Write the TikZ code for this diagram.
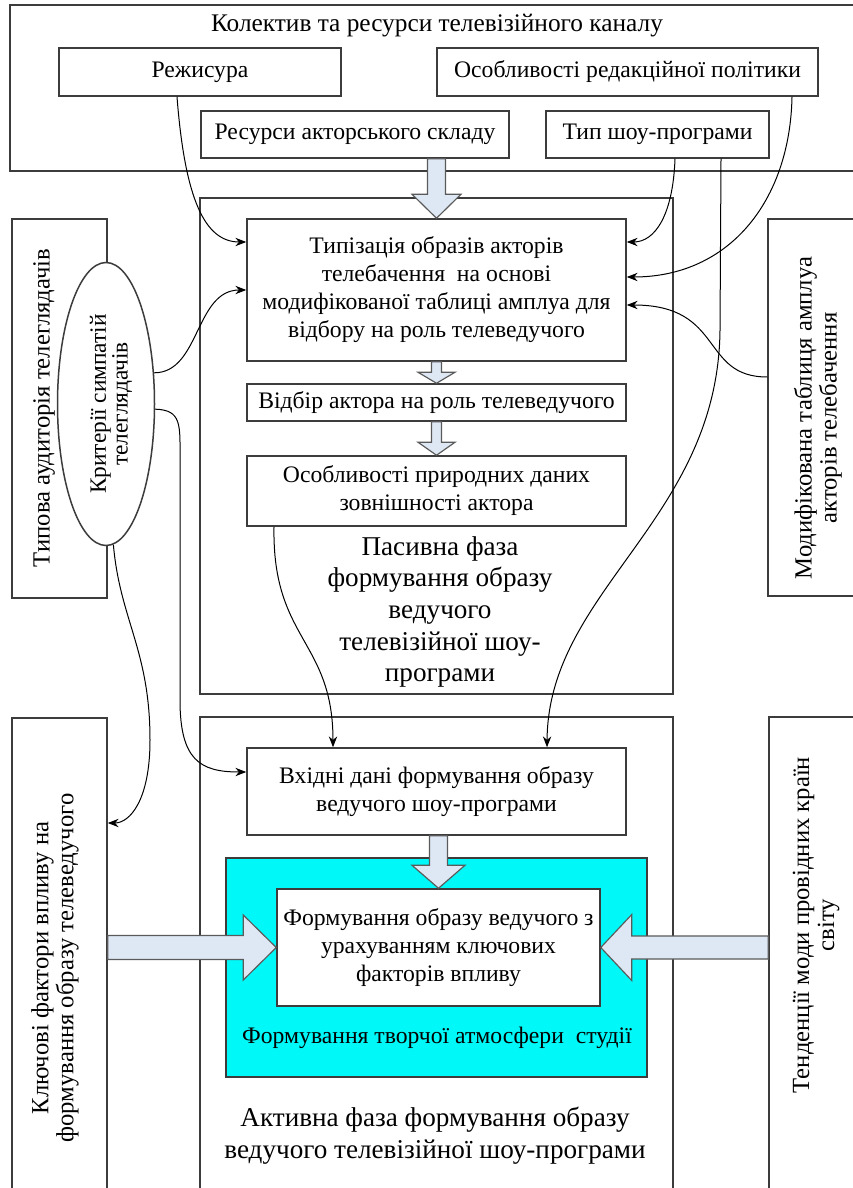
\documentclass[tikz,border=0pt]{standalone}
\usepackage{fontspec}
\setmainfont{Liberation Serif}
\usetikzlibrary{arrows.meta,calc,fit,shapes.geometric}
\definecolor{boxc}{RGB}{60,60,60}
\definecolor{arrfill}{RGB}{222,232,245}
\definecolor{arrline}{RGB}{90,90,90}
\definecolor{cyanf}{RGB}{0,248,248}
\newcommand\fA{\fontsize{14.2}{16.8}\selectfont}
\newcommand\fT{\fontsize{15.2}{17}\selectfont}
\newcommand\fB{\fontsize{16.3}{19}\selectfont}
\newcommand\fS{\fontsize{14.8}{15}\selectfont}
\newcommand\fC{\fontsize{14}{13}\selectfont}
% block arrow pointing down: #1 top centre, #2 tip, #3 shaft half width, #4 head half width, #5 head length
\newcommand\bdn[5]{\draw[blk] ($(#1)+(-#3,0)$) -- ($(#2)+(-#3,-#5)$) -- ($(#2)+(-#4,-#5)$) -- (#2) -- ($(#2)+(#4,-#5)$) -- ($(#2)+(#3,-#5)$) -- ($(#1)+(#3,0)$) -- cycle;}
% horizontal block arrow: #1 start centre, #2 tip, #3 shaft half, #4 head half, #5 signed head length
\newcommand\bhz[5]{\draw[blk] ($(#1)+(0,-#3)$) -- ($(#2)+(#5,-#3)$) -- ($(#2)+(#5,-#4)$) -- (#2) -- ($(#2)+(#5,#4)$) -- ($(#2)+(#5,#3)$) -- ($(#1)+(0,#3)$) -- cycle;}
\begin{document}
\begin{tikzpicture}[x=0.6pt,y=-0.6pt,
  frame/.style={draw=boxc, line width=0.9pt, fill=white, inner sep=0pt},
  txt/.style={align=center, font=\fA, inner sep=0pt},
  big/.style={align=center, font=\fB, inner sep=0pt},
  side/.style={align=center, font=\fS, inner sep=0pt, rotate=90},
  conn/.style={draw=black, line width=0.6pt, -{Stealth[length=6.5pt,width=5pt]}},
  blk/.style={draw=arrline, line width=0.7pt, fill=arrfill, line join=miter}]
\fill[white] (0,0) rectangle (853,1188);
\useasboundingbox (0,0) rectangle (853,1188);
\clip (0,0) rectangle (853,1188);

% top block
\node[frame, fit={(10,5)(870,171)}] (top) {};
\node[txt, font=\fT] (ttl) at (437,26) {Колектив та ресурси телевізійного каналу};
\node[frame, fit={(59,48)(341,96)}] (rez) {};
\node[txt] (rezt) at (rez.center) {Режисура};
\node[frame, fit={(437,48)(818,96)}] (pol) {};
\node[txt] (polt) at (pol.center) {Особливості редакційної політики};
\node[frame, fit={(201,111)(509,158)}] (res) {};
\node[txt] (rest) at (res.center) {Ресурси акторського складу};
\node[frame, fit={(546,111)(769,158)}] (typ) {};
\node[txt] (typt) at (typ.center) {Тип шоу-програми};

% passive phase
\node[frame, fit={(200,198)(673,694)}] (pas) {};
\node[frame, fit={(247,219)(626,361)}] (tz) {};
\node[txt] (tzt) at (tz.center) {Типізація образів акторів\\телебачення~ на основі\\модифікованої таблиці амплуа для\\відбору на роль телеведучого};
\node[frame, fit={(247,384)(626,421)}] (vid) {};
\node[txt] (vidt) at (vid.center) {Відбір актора на роль телеведучого};
\node[frame, fit={(247,456)(626,526)}] (nat) {};
\node[txt] (natt) at (nat.center) {Особливості природних даних\\зовнішності актора};
\node[big] (pasl) at (440,612) {Пасивна фаза\\формування образу\\ведучого\\телевізійної шоу-\\програми};

% active phase
\node[frame, fit={(200,717)(673,1210)}] (act) {};
\node[frame, fit={(247,748)(626,835)}] (vkh) {};
\node[txt] (vkht) at (vkh.center) {Вхідні дані формування образу\\ведучого шоу-програми};
\node[frame, fill=cyanf, fit={(226,858)(647,1077)}] (cy) {};
\node[frame, fit={(277,889)(600,1006)}] (frm) {};
\node[txt] (frmt) at (frm.center) {Формування образу ведучого з\\урахуванням ключових\\факторів впливу};
\node[txt] (atm) at (437,1038) {Формування творчої атмосфери~ студії};
\node[big] (actl) at (435,1136) {Активна фаза формування образу\\ведучого телевізійної шоу-програми};

% side blocks
\node[frame, fit={(12,219)(107,598)}] (aud) {};
\node[side] (audl) at (44,408) {Типова аудиторія телеглядачів};
\node[ellipse, draw=boxc, line width=0.9pt, fill=white, minimum width=58.2pt, minimum height=169.8pt, inner sep=0pt] (crit) at (106,404) {};
\node[side, font=\fC] (critl) at (111,404) {Критерії симпатій\\телеглядачів};
\node[frame, fit={(12,718)(107,1210)}] (kl) {};
\node[side] (kll) at (55,968) {Ключові фактори впливу на\\формування образу телеведучого};
\node[frame, fit={(768,219)(870,596)}] (mod) {};
\node[side] (modl) at (818,418) {Модифікована таблиця амплуа\\акторів телебачення};
\node[frame, fit={(769,717)(870,1210)}] (ten) {};
\node[side] (tenl) at (816,925) {Тенденції моди провідних країн\\світу};

% connectors
\draw[conn] ($(rez.south)+(-23,0)$) .. controls (185,200) and (205,242) .. ($(tz.west)+(0,-48)$);
\draw[conn] ($(typ.south)+(17.5,0)$) .. controls (673,215) and (655,242) .. ($(tz.east)+(0,-48)$);
\draw[conn] ($(pol.south)+(164.5,0)$) .. controls (790,200) and (730,277) .. ($(tz.east)+(0,-13)$);
\draw[conn] ($(mod.west)+(0,-30.5)$) .. controls (700,377) and (725,305) .. ($(tz.east)+(0,15)$);
\draw[conn] ($(typ.south)+(63.5,0)$) -- (720,330) .. controls (718,520) and (548,590) .. ($(vkh.north)+(110.5,0)$);
\draw[conn] ($(nat.south)+(-162.5,0)$) .. controls (272,640) and (333,640) .. ($(vkh.north)+(-103.5,0)$);
\draw[conn] (crit.33) .. controls (200,373) and (195,290) .. (tz.west);
\draw[conn] (crit.-6) .. controls (182,410) and (180,425) .. (180,460) -- (180,700) .. controls (180,760) and (200,772) .. ($(vkh.west)+(0,-19.5)$);
\draw[conn] (crit.-87) .. controls (120,620) and (150,650) .. (150,740) .. controls (150,800) and (130,823) .. ($(kl.east)+(0,-141)$);

% block arrows
\coordinate (a1) at (res.south -| tz.north);
\bdn{a1}{tz.north}{9}{24.5}{24}
\bdn{tz.south}{vid.north}{5}{18.5}{11}
\bdn{vid.south}{nat.north}{5}{18.5}{13}
\coordinate (a4) at (vkh.south -| frm.north);
\bdn{a4}{frm.north}{9}{26.5}{23}
\coordinate (a2) at (kl.east |- frm.west);
\bhz{a2}{frm.west}{12}{32.5}{-33}
\coordinate (a3) at (ten.west |- frm.east);
\bhz{a3}{frm.east}{11.5}{33}{31}
\end{tikzpicture}
\end{document}
